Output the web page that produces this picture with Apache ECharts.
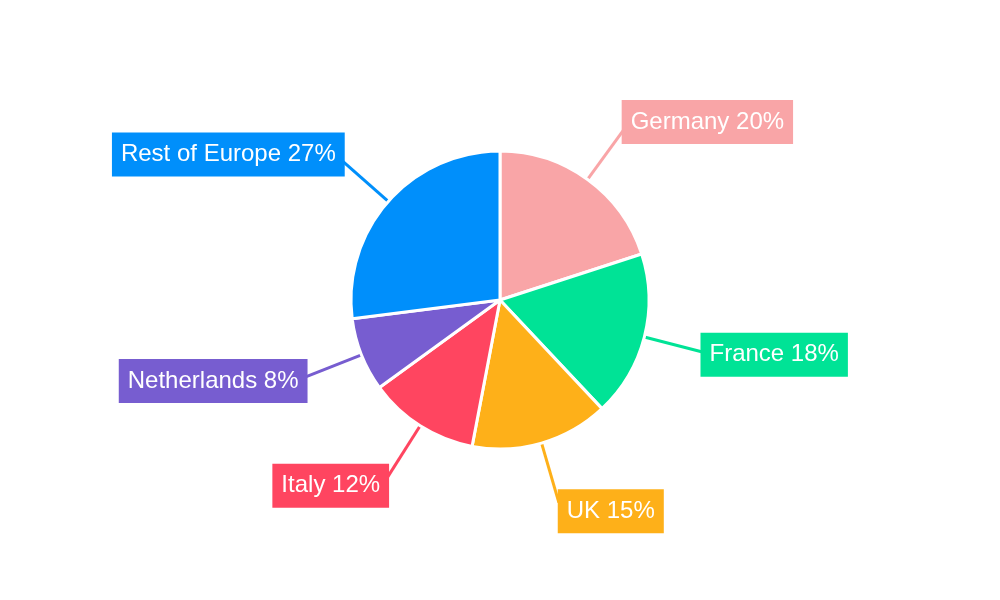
<!DOCTYPE html>
<html><head><meta charset="utf-8">
<script src="https://cdn.jsdelivr.net/npm/echarts@6/dist/echarts.min.js"></script>
<style>html,body{margin:0;padding:0;background:#fff}#c{width:1000px;height:600px}</style>
</head><body><div id="c"></div>
<script>
const categories = ['Germany', 'France', 'UK', 'Italy', 'Netherlands', 'Rest of Europe'];
const values = [20, 18, 15, 12, 8, 27];
const colors = ['#F9A5A7', '#00E396', '#FEB019', '#FF4560', '#775DD0', '#008FFB'];

const chart = echarts.init(document.getElementById('c'), null, {renderer: 'canvas'});
chart.setOption({
  animation: false,
  backgroundColor: '#ffffff',
  series: [{
    type: 'pie',
    center: [500, 300],
    radius: [0, 149],
    startAngle: 90,
    clockwise: true,
    avoidLabelOverlap: false,
    data: categories.map((c, i) => ({
      name: c, value: values[i],
      itemStyle: {color: colors[i]},
      label: {backgroundColor: colors[i]},
      labelLine: {lineStyle: {color: colors[i]}}
    })),
    itemStyle: {borderColor: '#ffffff', borderWidth: 3},
    label: {
      show: true,
      position: 'outside',
      formatter: p => p.name + ' ' + p.value + '%',
      color: '#ffffff',
      fontFamily: '"Liberation Sans", Arial, sans-serif',
      fontSize: 24,
      padding: [10, 9, 10, 9],
      distanceToLabelLine: 0
    },
    labelLine: {
      show: true,
      length: 62,
      length2: 0,
      smooth: false,
      lineStyle: {width: 3}
    },
    labelLayout: function (p) {
      const pts = p.labelLinePoints;
      if (!pts || pts.length < 2) return {};
      const vx = pts[1][0] - pts[0][0], vy = pts[1][1] - pts[0][1];
      const len = Math.sqrt(vx * vx + vy * vy) || 1;
      return {dx: -4 * vx / len, dy: 9 * vy / len};
    }
  }]
});
</script></body></html>
